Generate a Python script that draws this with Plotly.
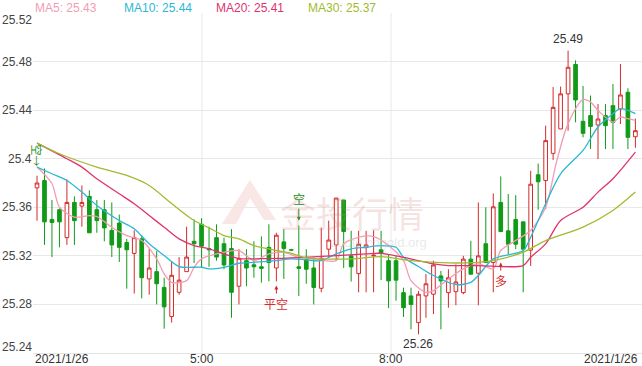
import plotly.graph_objects as go

# ---------------- data ----------------
opens = [25.376, 25.382, 25.350, 25.358, 25.335, 25.364, 25.361, 25.369, 25.358, 25.358,
         25.341, 25.347, 25.331, 25.322, 25.334, 25.301, 25.307, 25.294, 25.270, 25.290,
         25.307, 25.332, 25.346, 25.326, 25.335, 25.330, 25.326, 25.295, 25.316, 25.3126,
         25.311, 25.327, 25.310, 25.3315, 25.325, 25.311, 25.317, 25.310, 25.2933, 25.3255,
         25.329, 25.366, 25.320, 25.3054, 25.3268, 25.320, 25.325, 25.316, 25.316, 25.2897,
         25.287, 25.265, 25.287, 25.2884, 25.3035, 25.2897, 25.2905, 25.2897, 25.3173, 25.3057,
         25.330, 25.3145, 25.364, 25.3406, 25.350, 25.348, 25.3247, 25.3868, 25.382, 25.4044,
         25.4245, 25.4534, 25.4776, 25.4308, 25.4355, 25.4278, 25.4355, 25.4437, 25.441, 25.4547,
         25.4181]
highs = [25.386, 25.392, 25.366, 25.359, 25.383, 25.369, 25.378, 25.374, 25.366, 25.366,
         25.364, 25.354, 25.334, 25.341, 25.337, 25.326, 25.324, 25.302, 25.315, 25.319,
         25.344, 25.350, 25.351, 25.344, 25.346, 25.335, 25.342, 25.3255, 25.3255, 25.332,
         25.336, 25.346, 25.339, 25.342, 25.3258, 25.345, 25.3255, 25.3186, 25.3433, 25.349,
         25.3676, 25.366, 25.3406, 25.3406, 25.3406, 25.341, 25.3406, 25.321, 25.320, 25.2938,
         25.2938, 25.291, 25.305, 25.316, 25.3076, 25.309, 25.313, 25.320, 25.3324, 25.364,
         25.360, 25.3714, 25.3854, 25.3709, 25.370, 25.348, 25.390, 25.396, 25.4272, 25.459,
         25.4594, 25.489, 25.481, 25.460, 25.452, 25.445, 25.445, 25.4616, 25.478, 25.458,
         25.433]
lows = [25.349, 25.329, 25.319, 25.327, 25.329, 25.329, 25.344, 25.339, 25.339, 25.332,
        25.319, 25.315, 25.293, 25.289, 25.285, 25.288, 25.280, 25.260, 25.265, 25.288,
        25.307, 25.314, 25.310, 25.311, 25.316, 25.309, 25.269, 25.280, 25.295, 25.302,
        25.298, 25.299, 25.299, 25.301, 25.3242, 25.287, 25.297, 25.280, 25.290, 25.3186,
        25.316, 25.310, 25.2988, 25.290, 25.290, 25.290, 25.300, 25.277, 25.283, 25.2697,
        25.2595, 25.2554, 25.269, 25.272, 25.2595, 25.2773, 25.2793, 25.2884, 25.3049, 25.2793,
        25.3145, 25.290, 25.340, 25.3214, 25.3255, 25.290, 25.3117, 25.358, 25.3585, 25.399,
        25.4245, 25.423, 25.430, 25.4176, 25.408, 25.3997, 25.408, 25.408, 25.4286, 25.408,
        25.409]
closes = [25.380, 25.348, 25.3475, 25.348, 25.364, 25.349, 25.364, 25.339, 25.349, 25.343,
          25.329, 25.327, 25.325, 25.335, 25.302, 25.310, 25.297, 25.278, 25.304, 25.300,
          25.319, 25.330, 25.328, 25.325, 25.319, 25.3125, 25.290, 25.318, 25.310, 25.311,
          25.3097, 25.3145, 25.337, 25.326, 25.3248, 25.3097, 25.309, 25.294, 25.318, 25.333,
          25.3676, 25.340, 25.311, 25.3296, 25.329, 25.3205, 25.322, 25.2994, 25.300, 25.2773,
          25.280, 25.2884, 25.297, 25.3125, 25.2994, 25.302, 25.2985, 25.3173, 25.3049, 25.320,
          25.3145, 25.3604, 25.340, 25.3296, 25.3296, 25.3255, 25.379, 25.381, 25.4149, 25.4423,
          25.4534, 25.4753, 25.4484, 25.4209, 25.4266, 25.4327, 25.4272, 25.430, 25.4525, 25.4176,
          25.4231]

ma5_x = [0, 2, 3, 5, 7, 8, 10, 12, 14, 16, 17, 18, 20, 21, 22, 24, 27, 29, 31, 33, 35, 37, 40, 41,
         43, 45, 47, 49, 50, 52, 53, 55, 57, 59, 61, 62, 64, 66, 68, 69.5, 71, 73, 74, 75, 77, 78, 79, 80]
ma5_y = [25.3931, 25.3794, 25.3601, 25.3518, 25.3532, 25.3524, 25.3436, 25.3367, 25.3326, 25.3175,
         25.3052, 25.2982, 25.2996, 25.3106, 25.3175, 25.3216, 25.3244, 25.3161, 25.3216, 25.3229,
         25.3188, 25.3175, 25.3161, 25.3299, 25.3353, 25.3359, 25.3285, 25.3161, 25.2996, 25.2900,
         25.2914, 25.3010, 25.3093, 25.3134, 25.3093, 25.3244, 25.3326, 25.3409, 25.3601, 25.3986,
         25.4289, 25.4487, 25.4467, 25.4398, 25.4302, 25.4343, 25.4330, 25.4316]
ma10_x = [0, 2, 4, 6, 8, 11, 13, 15, 17, 19, 22, 23, 25, 27, 29, 32, 34, 36, 38, 40, 42, 44, 46,
          48, 49, 51, 53, 56, 58, 59, 61, 65, 66, 68, 70, 73, 75, 77, 78, 80]
ma10_y = [25.3931, 25.3876, 25.3821, 25.3725, 25.3615, 25.3491, 25.3423, 25.3299, 25.3203, 25.3112,
          25.3106, 25.3093, 25.3106, 25.3139, 25.3147, 25.3161, 25.3175, 25.3167, 25.3161, 25.3216,
          25.3258, 25.3271, 25.3285, 25.3271, 25.3188, 25.3112, 25.3038, 25.2963, 25.2982, 25.3038,
          25.3175, 25.3244, 25.3353, 25.3629, 25.3876, 25.4068, 25.4261, 25.4371, 25.4412, 25.4371]
ma20_x = [0, 4, 6, 8, 11, 13, 15, 17, 19, 21, 23, 25, 27, 31, 35, 40, 44, 46, 49, 51, 53, 55, 59,
          65, 66, 68, 70, 73, 75, 77, 80]
ma20_y = [25.4129, 25.4000, 25.3931, 25.3835, 25.3711, 25.3629, 25.3532, 25.3436, 25.3340, 25.3285,
          25.3258, 25.3216, 25.3178, 25.3178, 25.3186, 25.3202, 25.3216, 25.3221, 25.3188, 25.3161,
          25.3134, 25.3120, 25.3120, 25.3120, 25.3188, 25.3299, 25.3491, 25.3601, 25.3725, 25.3835,
          25.4054]
ma30_x = [0, 3, 8, 12, 15, 18, 21, 23, 25, 27, 29, 32, 34, 36, 38, 42, 46, 50, 55, 59, 61, 65, 68,
          73, 77, 80]
ma30_y = [25.4129, 25.4041, 25.3931, 25.3862, 25.3780, 25.3631, 25.3491, 25.3431, 25.3367, 25.3340,
          25.3285, 25.3244, 25.3221, 25.3183, 25.3175, 25.3175, 25.3194, 25.3161, 25.3142, 25.3147,
          25.3161, 25.3230, 25.3326, 25.3436, 25.3574, 25.3725]

ma_names = ["MA5", "MA10", "MA20", "MA30"]
ma_last = ["25.43", "25.44", "25.41", "25.37"]
ma_colors = ["#f29cb4", "#2bb8d4", "#e0336e", "#9fbb2f"]

y_ticks = [25.24, 25.28, 25.32, 25.36, 25.40, 25.44, 25.48, 25.52]
y_tick_text = ["25.24", "25.28", "25.32", "25.36", "25.4", "25.44", "25.48", "25.52"]
x_tick_pos = [0.0, 22.06, 47.33, 80.0]
x_tick_text = ["2021/1/26", "5:00", "8:00", "2021/1/26"]

# signal markers: (index, tip value, text, colour, shift)
signals = [(35, 25.349, "空", "#1a8f1a", -22), (32, 25.2955, "平空", "#d42a2a", 18),
           (62, 25.3145, "多", "#d42a2a", 18)]

UP = "#d42a2a"
DOWN = "#109a18"

# ---------------- figure ----------------
W, H = 642, 366
ML, MR, MT, MB = 33, 0, 13, 13
n = len(opens)
idx = list(range(n))

fig = go.Figure()
fig.add_trace(go.Candlestick(
    x=idx, open=opens, high=highs, low=lows, close=closes,
    increasing=dict(line=dict(color=UP, width=1), fillcolor="#ffffff"),
    decreasing=dict(line=dict(color=DOWN, width=1), fillcolor=DOWN),
    whiskerwidth=0, showlegend=False, hoverinfo="skip"))

for xs, ys, c in zip([ma5_x, ma10_x, ma20_x, ma30_x], [ma5_y, ma10_y, ma20_y, ma30_y], ma_colors):
    fig.add_trace(go.Scatter(x=xs, y=ys, mode="lines",
                             line=dict(color=c, width=1.3, shape="spline", smoothing=0.8),
                             showlegend=False, hoverinfo="skip"))

x0 = (ML - 37) / 7.48
x1 = (W - 37) / 7.48

annotations = []
# MA legend on top
leg_px = [33, 122, 214, 306]
for name, val, c, px in zip(ma_names, ma_last, ma_colors, leg_px):
    annotations.append(dict(xref="paper", yref="paper", x=(px - ML) / (W - ML - MR), y=1,
                            xanchor="left", yanchor="middle", yshift=5, showarrow=False,
                            text=f"{name}: {val}", font=dict(color=c, size=12)))
# y labels
for i, (v, t) in enumerate(zip(y_ticks, y_tick_text)):
    ys = 0
    if i == 0:
        ys = 6
    elif i == len(y_ticks) - 1:
        ys = -7
    annotations.append(dict(xref="paper", yref="y", x=0, y=v, xanchor="right", yanchor="middle",
                            xshift=1, yshift=ys, showarrow=False, text=t,
                            font=dict(color="#444", size=12)))
# x labels (first/last anchored to the plot edges)
anchors = ["left", "center", "center", "right"]
for i, (p, t) in enumerate(zip(x_tick_pos, x_tick_text)):
    if i == 0:
        ref, xv = "paper", 0
    elif i == len(x_tick_pos) - 1:
        ref, xv = "paper", 1
    else:
        ref, xv = "x", p
    annotations.append(dict(xref=ref, yref="paper", x=xv, y=0, xanchor=anchors[i], yanchor="middle",
                            yshift=-6, xshift=(-2 if i == len(x_tick_pos) - 1 else 0),
                            showarrow=False, text=t, font=dict(color="#333", size=12)))

# max/min labels
imax = max(idx, key=lambda i: highs[i])
imin = min(idx, key=lambda i: lows[i])
annotations.append(dict(x=imax, y=highs[imax], yanchor="bottom", yshift=3, showarrow=False,
                        text=f"{highs[imax]:.2f}", font=dict(color="#333", size=12)))
annotations.append(dict(x=imin, y=lows[imin], yanchor="top", yshift=-1, showarrow=False,
                        text=f"{lows[imin]:.2f}", font=dict(color="#333", size=12)))

# signal markers
for i, tip, t, c, sh in signals:
    annotations.append(dict(x=i, y=tip, ax=0, ay=sh, showarrow=True, arrowhead=2, arrowsize=0.8,
                            arrowwidth=1, arrowcolor=c, text=t, standoff=0, startstandoff=0,
                            font=dict(color=c, size=12, family="Noto Sans CJK SC")))
annotations.append(dict(x=0, y=25.4027, showarrow=False, text="空→", textangle=90,
                        font=dict(color="#1a8f1a", size=11, family="Noto Sans CJK SC")))

# watermark
def px2paper(px, py):
    return (px - ML) / (W - ML - MR), 1 - (py - MT) / (H - MT - MB)

wx, wy = px2paper(352, 212)
annotations.append(dict(xref="paper", yref="paper", x=wx, y=wy, showarrow=False, text="金投行情",
                        font=dict(color="rgba(215,130,120,0.22)", size=36, family="Noto Sans CJK SC")))
wx2, wy2 = px2paper(378, 252)
annotations.append(dict(xref="paper", yref="paper", x=wx2, y=wy2, showarrow=False,
                        text="quote.cngold.org",
                        font=dict(color="rgba(190,190,190,0.35)", size=13)))

shapes = []
roof = [(222, 224), (250, 180), (276, 220), (264, 220), (250, 198), (236, 224)]
path = "M " + " L ".join(f"{px2paper(a, b)[0]:.4f},{px2paper(a, b)[1]:.4f}" for a, b in roof) + " Z"
shapes.append(dict(type="path", xref="paper", yref="paper", path=path,
                   fillcolor="rgba(215,120,110,0.18)", line=dict(width=0), layer="below"))
for p in x_tick_pos[1:3]:
    shapes.append(dict(type="line", xref="x", yref="paper", x0=p, x1=p, y0=0, y1=1,
                       line=dict(color="#e8e8e8", width=1), layer="below"))

fig.update_layout(
    width=W, height=H, margin=dict(l=ML, r=MR, t=MT, b=MB),
    paper_bgcolor="white", plot_bgcolor="white",
    font=dict(family="Liberation Sans, Arial, sans-serif", size=12, color="#333"),
    xaxis=dict(range=[x0, x1], showgrid=False, zeroline=False, showticklabels=False,
               rangeslider=dict(visible=False), showline=True, linecolor="#e4e4e4", fixedrange=True),
    yaxis=dict(range=[25.24, 25.52], tickvals=y_ticks, showticklabels=False, showgrid=True,
               gridcolor="#e8e8e8", zeroline=False, fixedrange=True),
    annotations=annotations, shapes=shapes, showlegend=False,
)

fig.write_html("out.html")
